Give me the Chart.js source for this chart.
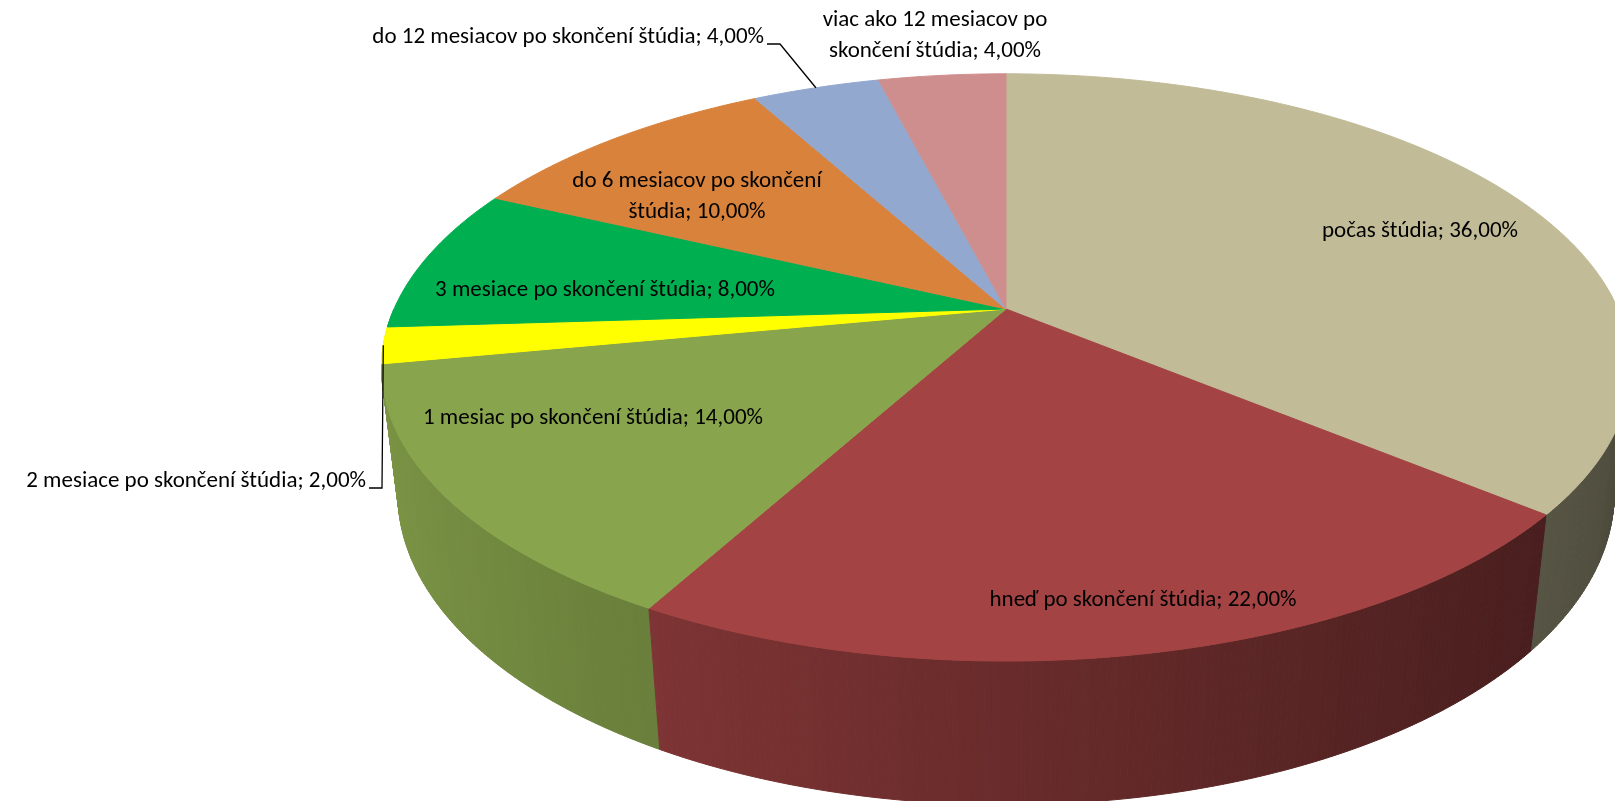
<!DOCTYPE html>
<html>
<head>
<meta charset="utf-8">
<script src="https://cdn.jsdelivr.net/npm/chart.js@4.4.0/dist/chart.umd.min.js"></script>
<style>
    html, body { margin: 0; padding: 0; background: #fff; }
    #wrap { width: 1615px; height: 801px; position: relative; }
</style>
</head>
<body>
<div id="wrap"><canvas id="myChart"></canvas></div>
<script>
// údaje grafu
const kategorie = [
    'počas štúdia',
    'hneď po skončení štúdia',
    '1 mesiac po skončení štúdia',
    '2 mesiace po skončení štúdia',
    '3 mesiace po skončení štúdia',
    'do 6 mesiacov po skončení štúdia',
    'do 12 mesiacov po skončení štúdia',
    'viac ako 12 mesiacov po skončení štúdia'
];
const hodnoty = [36, 22, 14, 2, 8, 10, 4, 4];
const farby = ['#C1BB97', '#A34343', '#88A44C', '#FFFF00', '#00B050', '#D8823C', '#93A8CF', '#CF8E8E'];

// rozloženie 3D koláča (pixely)
const P = { cx: 1006, cy: 309, rx: 612, ry: 282, p: 0.199, q: 0.026, t: 128 };

// pozície popisiek: x, y, zarovnanie, max. šírka riadku, odkazová čiara
const popiskyRozlozenie = [
    { x: 1420, y: 231, align: 'center' },
    { x: 1143, y: 600, align: 'center' },
    { x: 593, y: 418, align: 'center' },
    { x: 366, y: 481, align: 'right', ciara: true },
    { x: 605, y: 290, align: 'center' },
    { x: 697, y: 197, align: 'center', sirka: 275 },
    { x: 764, y: 37, align: 'right', ciara: true },
    { x: 935, y: 36, align: 'center', sirka: 262 }
];
const FONT = '23px Carlito, Lato, sans-serif';
const RIADOK = 31;

function proj(a, r, dole) {
    let u = Math.cos(a) * r;
    let v = Math.sin(a) * r;
    let w = 1 / (1 - P.p * v + (dole ? P.q : 0));
    return { x: P.cx + P.rx * u * w, y: P.cy + (P.ry * v + (dole ? P.t : 0)) * w };
}

function stmav(hex, f) {
    let n = parseInt(hex.slice(1), 16);
    let r = Math.round(((n >> 16) & 255) * f);
    let g = Math.round(((n >> 8) & 255) * f);
    let b = Math.round((n & 255) * f);
    return 'rgb(' + r + ',' + g + ',' + b + ')';
}

function formatPercent(v) {
    return v.toFixed(2).replace('.', ',') + '%';
}

const pie3d = {
    id: 'pie3d',
    beforeDatasetsDraw(chart) {
        let ctx = chart.ctx;
        let arcs = chart.getDatasetMeta(0).data;
        let krok = Math.PI / 360;

        // bočné steny (predná polovica)
        let stvorce = [];
        arcs.forEach(function(arc, i) {
            let a0 = Math.max(arc.startAngle, 0);
            let a1 = Math.min(arc.endAngle, Math.PI);
            for (let a = a0; a < a1; a += krok) {
                let b = Math.min(a + krok, a1);
                let m = (a + b) / 2;
                stvorce.push({ a: a, b: b, m: m, farba: stmav(farby[i], 0.647 - 0.257 * Math.cos(m)) });
            }
        });
        stvorce.sort(function(s1, s2) {
            return Math.abs(s2.m - Math.PI / 2) - Math.abs(s1.m - Math.PI / 2);
        });
        ctx.save();
        ctx.lineWidth = 1;
        ctx.lineJoin = 'round';
        stvorce.forEach(function(s) {
            let p1 = proj(s.a, 1, false), p2 = proj(s.b, 1, false);
            let p3 = proj(s.b, 1, true), p4 = proj(s.a, 1, true);
            ctx.beginPath();
            ctx.moveTo(p1.x, p1.y);
            ctx.lineTo(p2.x, p2.y);
            ctx.lineTo(p3.x, p3.y);
            ctx.lineTo(p4.x, p4.y);
            ctx.closePath();
            ctx.fillStyle = s.farba;
            ctx.strokeStyle = s.farba;
            ctx.fill();
            ctx.stroke();
        });

        // vrchná plocha
        arcs.forEach(function(arc, i) {
            let c = proj(0, 0, false);
            ctx.beginPath();
            ctx.moveTo(c.x, c.y);
            for (let a = arc.startAngle; a < arc.endAngle; a += krok) {
                let pt = proj(a, 1, false);
                ctx.lineTo(pt.x, pt.y);
            }
            let pe = proj(arc.endAngle, 1, false);
            ctx.lineTo(pe.x, pe.y);
            ctx.closePath();
            ctx.fillStyle = farby[i];
            ctx.strokeStyle = farby[i];
            ctx.fill();
            ctx.stroke();
        });
        ctx.restore();
        return false;
    },
    afterDraw(chart) {
        let ctx = chart.ctx;
        let arcs = chart.getDatasetMeta(0).data;
        ctx.save();
        ctx.font = FONT;
        ctx.fillStyle = '#000';
        ctx.textBaseline = 'middle';
        popiskyRozlozenie.forEach(function(l, i) {
            let text = kategorie[i] + '; ' + formatPercent(hodnoty[i]);
            let riadky = [text];
            if (l.sirka) {
                riadky = [];
                let slova = text.split(' ');
                let akt = '';
                slova.forEach(function(s) {
                    let skusit = akt ? akt + ' ' + s : s;
                    if (ctx.measureText(skusit).width > l.sirka && akt) {
                        riadky.push(akt);
                        akt = s;
                    } else {
                        akt = skusit;
                    }
                });
                riadky.push(akt);
            }
            ctx.textAlign = l.align;
            let y0 = l.y - (riadky.length - 1) * RIADOK / 2;
            riadky.forEach(function(r, k) {
                ctx.fillText(r, l.x, y0 + k * RIADOK);
            });
            if (l.ciara) {
                let arc = arcs[i];
                let koniec = proj((arc.startAngle + arc.endAngle) / 2, 1, false);
                let sx = l.x + 3, sy = l.y + 7;
                ctx.beginPath();
                ctx.moveTo(sx, sy);
                ctx.lineTo(sx + 13, sy);
                ctx.lineTo(koniec.x, koniec.y);
                ctx.strokeStyle = '#000';
                ctx.lineWidth = 1.3;
                ctx.stroke();
            }
        });
        ctx.restore();
    }
};

let ctx = document.getElementById('myChart').getContext('2d');
let myChart = new Chart(ctx, {
    type: 'pie',
    data: {
        labels: kategorie,
        datasets: [{
            data: hodnoty,
            backgroundColor: farby,
            borderWidth: 0
        }]
    },
    options: {
        responsive: true,
        maintainAspectRatio: false,
        animation: false,
        events: [],
        plugins: {
            legend: { display: false },
            tooltip: { enabled: false }
        }
    },
    plugins: [pie3d]
});
</script>
</body>
</html>
